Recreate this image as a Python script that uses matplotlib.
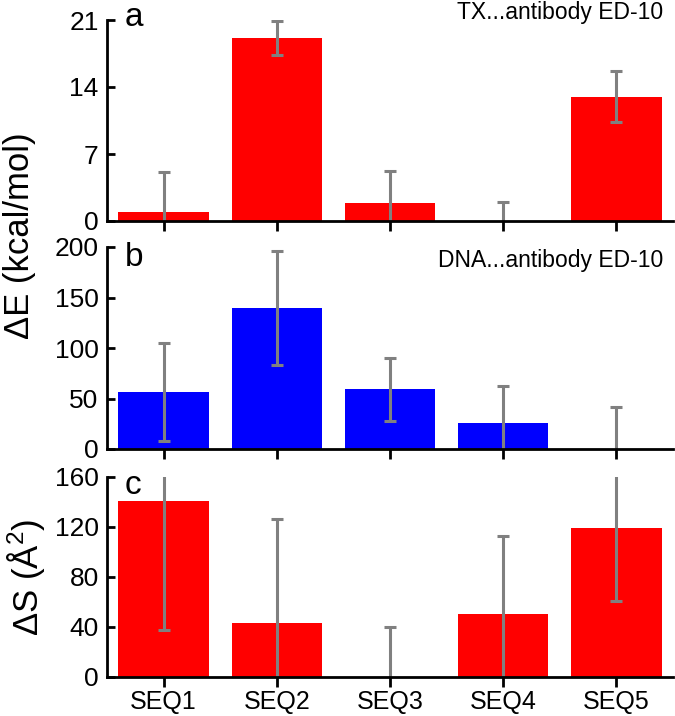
import matplotlib
matplotlib.use('Agg')
import matplotlib.pyplot as plt

plt.rcParams['font.family'] = ['Liberation Sans', 'DejaVu Sans']
plt.rcParams['mathtext.fontset'] = 'custom'
plt.rcParams['mathtext.rm'] = 'Liberation Sans'

seqs = ['SEQ1', 'SEQ2', 'SEQ3', 'SEQ4', 'SEQ5']

tx_E = [0.9, 19.1, 1.85, 0.0, 13.0]
tx_err = [4.2, 1.8, 3.4, 2.0, 2.7]

dna_E = [56.5, 140, 59, 26, 0.0]
dna_err = [48.5, 56.5, 31, 36, 41.3]

area_S = [141, 43.5, 0.0, 50.7, 119]
area_err = [103.6, 83, 40, 62, 58.5]

W, H = 675, 716
fig = plt.figure(figsize=(W / 100, H / 100), dpi=100)

def make_ax(top, bottom):
    return fig.add_axes([107 / W, (H - bottom) / H, 566 / W, (bottom - top) / H])

panels = [
    (make_ax(20, 221), tx_E, tx_err, 'red', [0, 7, 14, 21], 'a', 18, 'TX...antibody ED-10', 12),
    (make_ax(247, 449), dna_E, dna_err, '#0000ff', [0, 50, 100, 150, 200], 'b', 257, 'DNA...antibody ED-10', 260),
    (make_ax(477, 677), area_S, area_err, 'red', [0, 40, 80, 120, 160], 'c', 485, None, 0),
]

x = list(range(1, 6))
for ax, vals, errs, col, yt, letter, ly, note, ny in panels:
    ax.bar(x, vals, width=0.8, color=col, zorder=1)
    ax.errorbar(x, vals, yerr=errs, fmt='none', ecolor='#808080', elinewidth=2.2,
                capsize=4.5, capthick=2.2, zorder=2)
    ax.set_xlim(0.5, 5.5)
    ax.set_ylim(yt[0], yt[-1])
    ax.set_yticks(yt)
    ax.set_xticks(x)
    for s in ['top', 'right']:
        ax.spines[s].set_visible(False)
    for s in ['left', 'bottom']:
        ax.spines[s].set_linewidth(2)
        ax.spines[s].set_zorder(3)
    ax.tick_params(axis='y', direction='in', length=6, width=2, labelsize=19, pad=6)
    ax.tick_params(axis='x', direction='out', length=7, width=2, labelsize=18, pad=2)
    ax.text(125 / W, (H - ly) / H, letter, transform=fig.transFigure, fontsize=24,
            va='center', ha='left')
    if note:
        ax.text(663 / W, (H - ny) / H, note, transform=fig.transFigure, fontsize=16.5,
                va='center', ha='right')
    if letter == 'c':
        ax.set_xticklabels(seqs)
    else:
        ax.set_xticklabels([])

fig.text(20 / W, (H - 236) / H, 'ΔE (kcal/mol)', rotation=90, fontsize=25,
         ha='center', va='center')
fig.text(26 / W, (H - 577) / H, 'ΔS (Å$^2$)', rotation=90, fontsize=25,
         ha='center', va='center')

fig.savefig('out.png', dpi=100)
